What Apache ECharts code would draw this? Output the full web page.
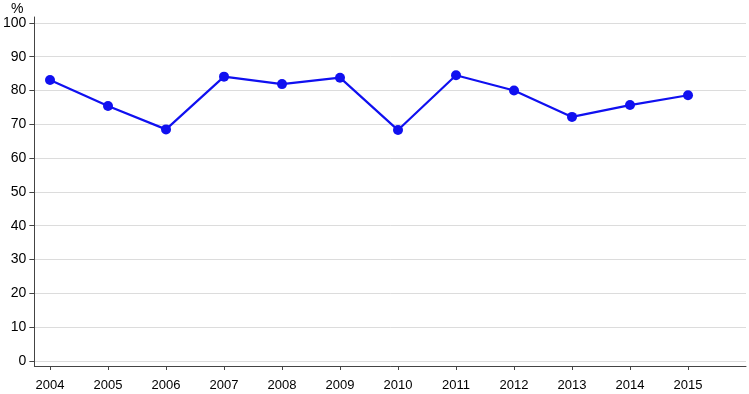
<!DOCTYPE html>
<html>
<head>
<meta charset="utf-8">
<script src="https://cdn.jsdelivr.net/npm/echarts@6/dist/echarts.min.js"></script>
<style>
  html, body { margin: 0; padding: 0; background: #fff; }
  #chart { width: 749px; height: 394px; }
</style>
</head>
<body>
<div id="chart"></div>
<script>
const years = ['2004', '2005', '2006', '2007', '2008', '2009', '2010', '2011', '2012', '2013', '2014', '2015']
const values = [83.1, 75.4, 68.5, 84.1, 81.9, 83.8, 68.3, 84.5, 80.0, 72.2, 75.7, 78.6]
const yTicks = [0, 10, 20, 30, 40, 50, 60, 70, 80, 90, 100]

const chart = echarts.init(document.getElementById('chart'))
const font = 'Liberation Sans, Arial, sans-serif'
const axisColor = '#444'

const option = {
  animation: false,
  title: {
    text: '%',
    left: 11,
    top: 2,
    padding: 0,
    textStyle: { fontSize: 14, fontWeight: 'normal', color: '#000', fontFamily: font }
  },
  grid: { left: 33, right: 3, top: 17, bottom: 28, containLabel: false },
  xAxis: {
    type: 'value',
    min: 2003.73,
    max: 2016,
    axisLine: { show: true, onZero: false, lineStyle: { color: axisColor, width: 1 } },
    axisTick: { show: true, length: 4, customValues: years.map(Number), lineStyle: { color: axisColor } },
    axisLabel: {
      customValues: years.map(Number),
      color: '#000',
      fontSize: 13,
      fontFamily: font,
      margin: 13,
      formatter: v => String(v)
    },
    splitLine: { show: false }
  },
  yAxis: {
    type: 'value',
    min: -1.5,
    max: 101.75,
    axisLine: { show: true, onZero: false, lineStyle: { color: axisColor, width: 1 } },
    axisTick: { show: true, inside: false, length: 5, customValues: yTicks, lineStyle: { color: axisColor, width: 1 } },
    axisLabel: {
      customValues: yTicks,
      color: '#000',
      fontSize: 14,
      fontFamily: font,
      margin: 8
    },
    splitLine: { show: true, lineStyle: { color: '#dcdcdc', width: 1 } }
  },
  series: [{
    type: 'line',
    data: years.map((y, i) => [Number(y), values[i]]),
    symbol: 'circle',
    symbolSize: 10,
    lineStyle: { color: '#1010f0', width: 2.2 },
    itemStyle: { color: '#1010f0' }
  }]
}

chart.setOption(option)
</script>
</body>
</html>
